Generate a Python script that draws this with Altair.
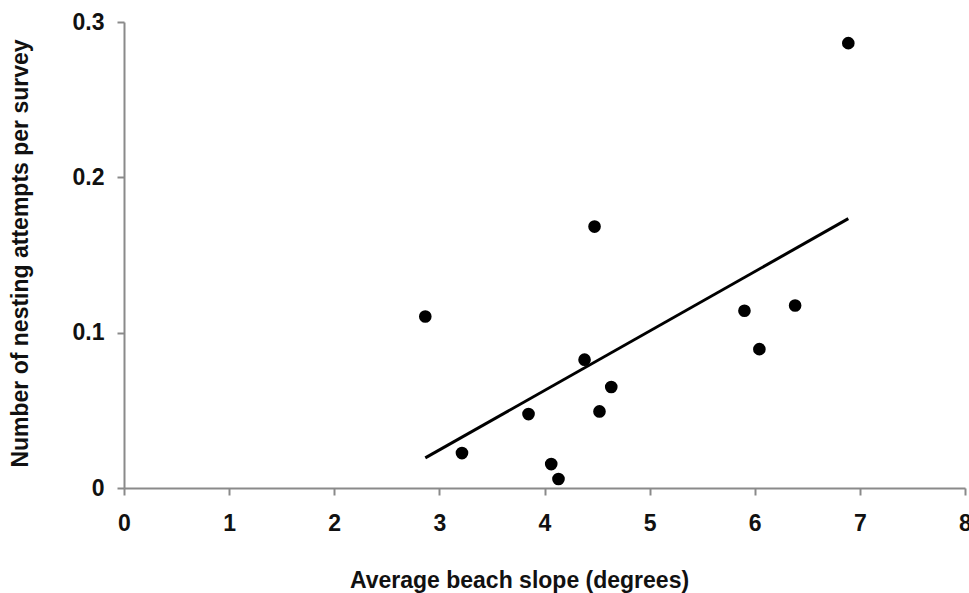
import altair as alt
import pandas as pd

# Data
slope = [2.866, 3.215, 3.848, 4.064, 4.133, 4.381, 4.476, 4.523, 4.635, 5.902, 6.044, 6.384, 6.890]
attempts = [0.1104, 0.0225, 0.0476, 0.0154, 0.0058, 0.0826, 0.1683, 0.0493, 0.0650, 0.1141, 0.0894, 0.1175, 0.2864]
x_ticks = [0, 1, 2, 3, 4, 5, 6, 7, 8]
y_ticks = [0, 0.1, 0.2, 0.3]

df = pd.DataFrame({"slope": slope, "attempts": attempts})

FONT = "Liberation Sans"
FS = 23

x_enc = alt.X(
    "slope:Q",
    scale=alt.Scale(domain=[0, 8], nice=False, zero=False),
    axis=alt.Axis(
        values=x_ticks,
        format="d",
        title="Average beach slope (degrees)",
        grid=False,
        domainColor="#8a8a8a",
        domainWidth=2,
        tickColor="#8a8a8a",
        tickWidth=2,
        tickSize=7,
        labelPadding=17,
        labelFont=FONT,
        labelFontSize=FS,
        labelFontWeight="bold",
        labelColor="#111111",
        labelFlush=False,
        titleFont=FONT,
        titleFontSize=FS,
        titleFontWeight="bold",
        titleColor="#111111",
        titleX=395,
        titleY=99,
        titleAlign="center",
        titleBaseline="alphabetic",
    ),
)

y_enc = alt.Y(
    "attempts:Q",
    scale=alt.Scale(domain=[0, 0.3], nice=False, zero=False),
    axis=alt.Axis(
        values=y_ticks,
        labelExpr="datum.value == 0 ? '0' : format(datum.value, '.1f')",
        title="Number of nesting attempts per survey",
        grid=False,
        domainColor="#8a8a8a",
        domainWidth=2,
        tickColor="#8a8a8a",
        tickWidth=2,
        tickSize=7,
        labelPadding=13,
        labelFont=FONT,
        labelFontSize=FS,
        labelFontWeight="bold",
        labelColor="#111111",
        labelFlush=False,
        titleFont=FONT,
        titleFontSize=FS,
        titleFontWeight="bold",
        titleColor="#111111",
        titleAngle=270,
        titleX=-97,
        titleY=231,
        titleAlign="center",
        titleBaseline="alphabetic",
    ),
)

points = alt.Chart(df).mark_circle(color="black", size=160, opacity=1).encode(
    x=x_enc, y=y_enc
)

line = (
    alt.Chart(df)
    .transform_regression("slope", "attempts", method="linear")
    .mark_line(color="black", strokeWidth=3)
    .encode(x="slope:Q", y="attempts:Q")
)

chart = (
    alt.layer(points, line)
    .properties(
        width=841,
        height=466,
        autosize=alt.AutoSizeParams(type="none"),
        padding={"left": 124, "top": 22, "right": 4, "bottom": 105},
        background="white",
    )
    .configure_view(stroke=None)
)

chart.save("out.html", embed_options={"renderer": "svg", "actions": False})
